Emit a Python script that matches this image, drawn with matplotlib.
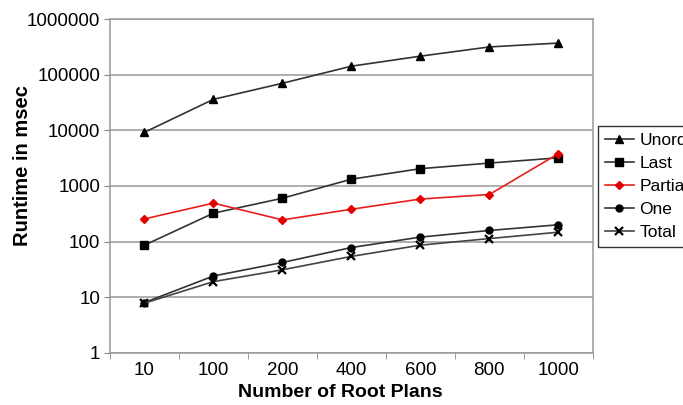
import matplotlib.pyplot as plt
import numpy as np

plt.rcParams['font.family'] = ['Liberation Sans', 'DejaVu Sans']

plans = ['10', '100', '200', '400', '600', '800', '1000']
unord = [9200, 36000, 70000, 142000, 215000, 315000, 370000]
last = [86, 323, 600, 1320, 2040, 2570, 3200]
partial = [255, 490, 245, 380, 580, 700, 3800]
one = [8, 24, 42, 78, 120, 158, 200]
total = [7.8, 19, 31, 54, 86, 113, 147]

fig = plt.figure(figsize=(6.83, 4.05), dpi=100)
ax = fig.add_axes([0.161, 0.129, 0.707, 0.824])

x = np.arange(len(plans))
ax.plot(x, unord, color='#333333', lw=1.2, marker='^', ms=5.5, mfc='black', mec='black', label='Unord')
ax.plot(x, last, color='#333333', lw=1.2, marker='s', ms=5.5, mfc='black', mec='black', label='Last')
ax.plot(x, partial, color='#e8201c', lw=1.2, marker='D', ms=4.5, mfc='#e00000', mec='#e00000', label='Partia')
ax.plot(x, one, color='#333333', lw=1.2, marker='o', ms=5, mfc='black', mec='black', label='One')
ax.plot(x, total, color='#444444', lw=1.2, marker='x', ms=5.5, mew=1.6, mec='black', label='Total')

ax.set_yscale('log')
ax.set_ylim(1, 1000000)
ax.set_yticks([1, 10, 100, 1000, 10000, 100000, 1000000])
ax.set_yticklabels(['1', '10', '100', '1000', '10000', '100000', '1000000'])
ax.minorticks_off()
ax.yaxis.grid(True, color='#999999', lw=1.1)
ax.set_axisbelow(True)

ax.set_xlim(-0.5, len(plans) - 0.5)
ax.set_xticks(x)
ax.set_xticklabels(plans)
ax.tick_params(axis='x', length=0, labelsize=13.5, pad=7)
ax.set_xticks(np.arange(-0.5, len(plans)), minor=True)
ax.tick_params(axis='x', which='minor', length=4, color='#888888')
ax.tick_params(axis='y', labelsize=13.5, length=4, color='#888888', pad=3)

for s in ax.spines.values():
    s.set_color('#999999')
    s.set_linewidth(1.1)

ax.set_xlabel('Number of Root Plans', fontsize=14, fontweight='bold', va='center')
ax.xaxis.set_label_coords(0.476, -0.12)
ax.set_ylabel('Runtime in msec', fontsize=14.5, fontweight='bold', va='center')
ax.yaxis.set_label_coords(-0.182, 0.56)

leg = ax.legend(loc='upper left', bbox_to_anchor=(1.01, 0.68), fontsize=12.5,
                frameon=True, fancybox=False, handlelength=1.7, handletextpad=0.3,
                labelspacing=0.45, borderpad=0.4, borderaxespad=0)
leg.get_frame().set_edgecolor('black')
leg.get_frame().set_linewidth(1.0)

fig.savefig('out.png', dpi=100)
